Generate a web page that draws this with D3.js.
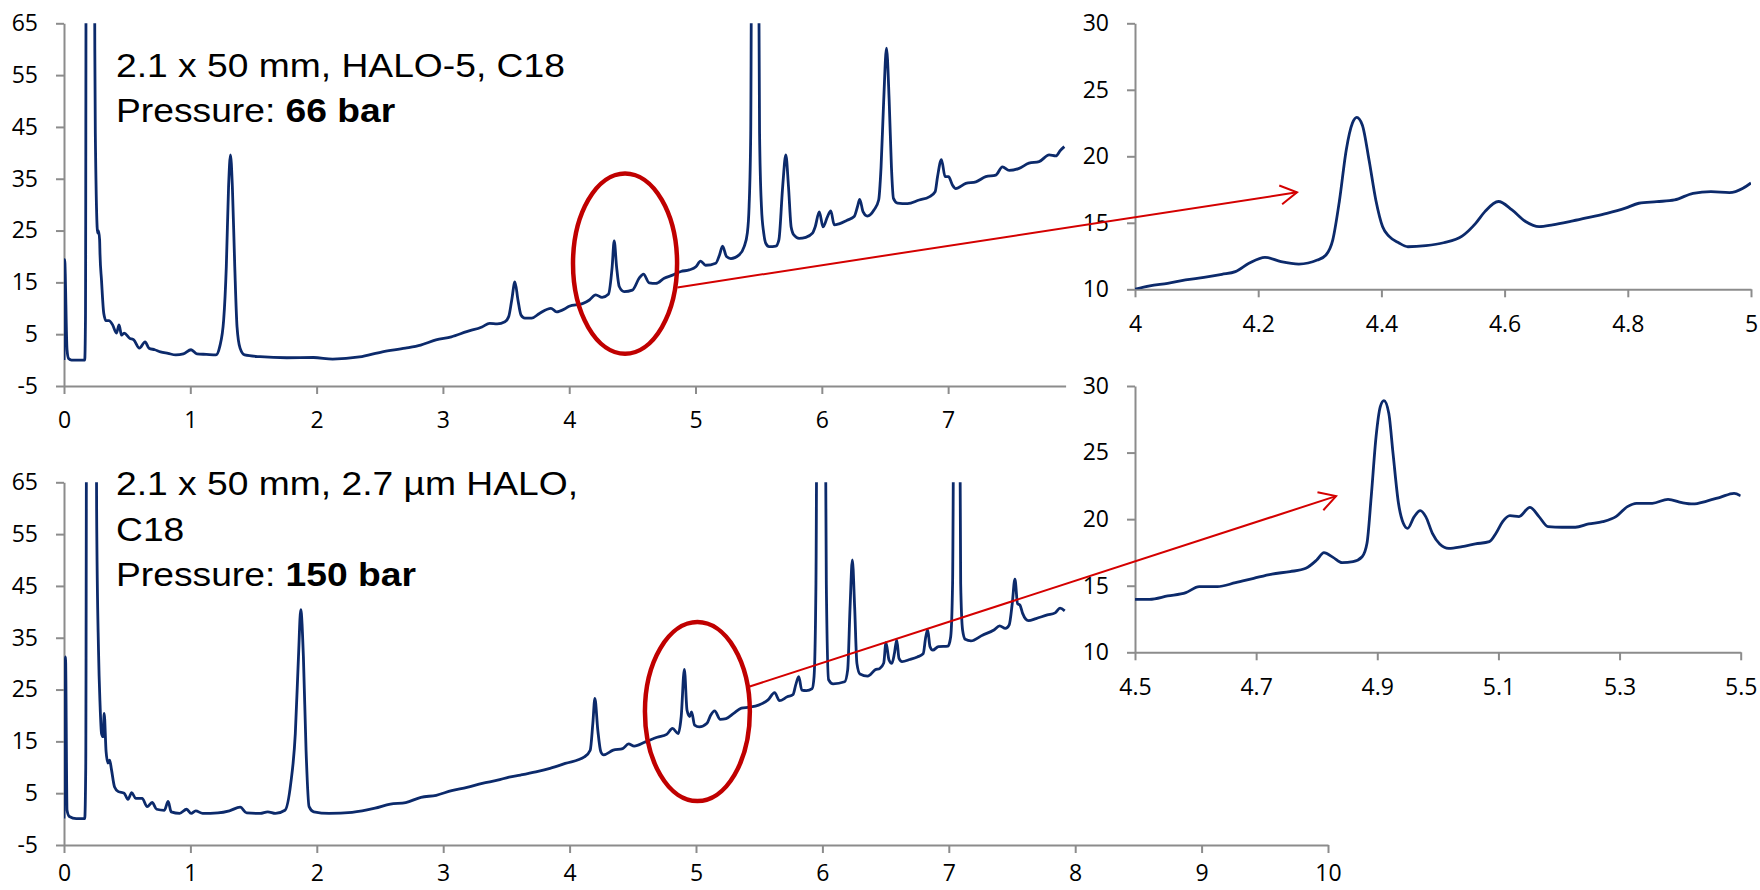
<!DOCTYPE html>
<html><head><meta charset="utf-8">
<script src="https://cdn.jsdelivr.net/npm/d3@7/dist/d3.min.js"></script>
<style>
html,body{margin:0;padding:0;background:#fff;}
svg text{font-family:"Open Sans",sans-serif;}
</style></head>
<body>
<svg id="chart" width="1760" height="890"></svg>
<script>
// ---------- DATA ----------
// Panel A: 2.1 x 50 mm, HALO-5, C18 (time min, signal)
const traceA = [
[0.000,0.0],[0.005,19.4],[0.024,2.0],[0.036,0.3],[0.06,0.0],[0.164,0.0],[0.170,8],[0.178,120],[0.236,120],[0.244,60],[0.248,43.8],
[0.267,24.5],[0.273,25.0],[0.282,23.2],[0.285,20.5],[0.297,15.4],[0.315,9.0],[0.333,7.6],[0.355,7.6],[0.385,6.8],[0.415,5.2],
[0.436,6.8],[0.455,4.8],[0.476,5.2],[0.521,4.2],[0.552,3.9],[0.597,2.3],[0.642,3.5],[0.673,2.3],[0.718,2.0],[0.764,1.6],
[0.824,1.3],[0.885,1.0],[0.945,1.2],[1.006,2.0],[1.052,1.2],[1.127,1.1],[1.203,1.0],[1.233,2.6],[1.264,7.7],[1.285,18.0],
[1.303,33.5],[1.318,39.6],[1.333,33.5],[1.352,18.0],[1.370,6.4],[1.394,2.3],[1.430,1.0],[1.552,0.65],[1.764,0.45],[1.976,0.5],
[2.127,0.2],[2.339,0.6],[2.521,1.6],[2.703,2.3],[2.824,2.9],[2.945,3.9],[3.067,4.5],[3.188,5.5],[3.309,6.4],[3.370,7.1],
[3.430,7.0],[3.491,7.4],[3.521,8.4],[3.545,11.6],[3.570,15.1],[3.594,11.6],[3.618,8.7],[3.648,8.1],[3.703,8.1],[3.764,9.0],
[3.855,10.0],[3.900,9.3],[3.966,9.9],[4.000,10.4],[4.105,10.9],[4.160,11.6],[4.210,12.6],[4.260,12.1],[4.310,12.7],[4.340,18.0],
[4.356,23.0],[4.375,18.0],[4.396,14.2],[4.435,13.2],[4.500,13.5],[4.554,15.8],[4.588,16.6],[4.633,14.9],[4.686,14.8],[4.752,15.8],
[4.818,16.4],[4.884,17.1],[4.950,17.4],[5.003,18.0],[5.040,19.1],[5.080,18.3],[5.160,18.7],[5.190,20.3],[5.214,22.0],[5.245,20.0],
[5.280,19.6],[5.345,20.3],[5.385,21.9],[5.410,24.5],[5.424,29.6],[5.437,43.8],[5.450,120],[5.490,120],[5.507,43.8],[5.522,29.6],
[5.540,24.5],[5.557,22.5],[5.583,21.9],[5.636,22.0],[5.660,23.2],[5.690,33.5],[5.715,39.6],[5.736,33.5],[5.757,25.7],[5.780,24.1],
[5.820,23.5],[5.873,23.7],[5.926,24.5],[5.947,25.7],[5.980,28.6],[6.010,25.7],[6.045,27.7],[6.071,28.8],[6.098,26.1],[6.137,26.3],
[6.200,27.0],[6.256,27.7],[6.282,29.6],[6.300,31.0],[6.327,28.6],[6.360,27.8],[6.414,29.0],[6.450,30.9],[6.469,37.3],[6.490,50.2],
[6.512,60.2],[6.533,50.2],[6.551,37.3],[6.567,31.2],[6.599,30.3],[6.678,30.2],[6.771,30.9],[6.850,31.5],[6.897,32.5],[6.916,35.4],
[6.947,38.7],[6.976,35.4],[7.003,35.4],[7.034,33.8],[7.060,33.1],[7.140,34.1],[7.220,34.4],[7.298,35.4],[7.377,35.7],[7.430,37.3],
[7.483,36.6],[7.562,37.0],[7.640,38.0],[7.720,38.3],[7.800,39.6],[7.852,39.4],[7.890,40.5],[7.920,41.2]
];

// Panel C: 2.1 x 50 mm, 2.7 µm HALO, C18
const traceC = [
[0.000,0.1],[0.012,31.3],[0.024,1.7],[0.042,0.5],[0.097,0.1],[0.164,0.1],[0.172,10],[0.182,120],[0.250,120],[0.258,60],[0.273,32.6],
[0.285,22.3],[0.297,16.5],[0.309,15.9],[0.318,20.4],[0.333,13.0],[0.348,10.8],[0.361,11.4],[0.376,9.5],[0.400,6.2],[0.430,5.3],
[0.476,5.0],[0.506,3.8],[0.536,5.1],[0.567,4.0],[0.618,4.0],[0.658,2.4],[0.697,3.2],[0.733,1.9],[0.794,1.7],[0.824,3.4],
[0.848,1.4],[0.915,1.1],[0.970,1.9],[1.006,1.1],[1.042,1.6],[1.097,1.1],[1.218,1.2],[1.309,1.6],[1.394,2.3],[1.445,1.2],
[1.552,1.1],[1.612,1.4],[1.673,1.1],[1.748,1.7],[1.794,6.9],[1.830,16.5],[1.855,31.3],[1.873,40.4],[1.894,31.3],[1.915,13.3],
[1.939,2.4],[1.976,1.4],[2.097,1.1],[2.279,1.3],[2.461,2.1],[2.582,2.9],[2.703,3.2],[2.824,4.2],[2.945,4.6],[3.067,5.5],
[3.188,6.1],[3.309,6.9],[3.430,7.5],[3.521,8.1],[3.612,8.5],[3.733,9.1],[3.845,9.8],[3.966,10.75],[4.117,12.0],[4.163,13.3],
[4.184,18.5],[4.200,23.3],[4.223,17.2],[4.247,13.0],[4.269,12.4],[4.345,13.3],[4.420,13.6],[4.466,14.5],[4.511,14.1],[4.600,14.9],
[4.693,15.8],[4.768,16.35],[4.814,17.5],[4.859,16.5],[4.883,19.8],[4.908,28.9],[4.929,21.0],[4.950,19.8],[4.965,20.7],[4.989,18.15],
[5.026,17.8],[5.087,18.5],[5.117,20.1],[5.147,20.9],[5.192,19.25],[5.238,19.4],[5.298,20.4],[5.359,21.4],[5.420,21.6],[5.495,22.0],
[5.570,23.0],[5.622,24.4],[5.661,22.85],[5.722,23.6],[5.767,24.0],[5.789,25.9],[5.813,27.5],[5.837,24.9],[5.873,24.8],[5.919,25.2],
[5.934,27.5],[5.949,45.5],[5.964,120],[6.013,120],[6.031,45.5],[6.049,26.9],[6.085,26.1],[6.176,26.5],[6.200,28.8],[6.219,41.0],
[6.237,50.0],[6.255,41.0],[6.273,30.05],[6.297,28.0],[6.358,27.6],[6.418,28.8],[6.455,29.1],[6.485,30.1],[6.503,34.05],[6.527,30.7],
[6.549,30.05],[6.570,32.0],[6.588,34.6],[6.606,31.0],[6.630,30.4],[6.691,30.8],[6.751,31.3],[6.797,31.9],[6.818,35.2],[6.833,36.5],
[6.851,33.3],[6.873,32.6],[6.918,33.3],[6.994,33.4],[7.015,35.2],[7.030,45.5],[7.048,120],[7.078,120],[7.094,45.5],[7.109,36.5],
[7.130,34.7],[7.175,34.4],[7.266,35.5],[7.357,36.5],[7.402,37.3],[7.448,36.8],[7.478,37.5],[7.502,41.6],[7.523,46.3],[7.544,41.6],
[7.563,41.3],[7.584,39.7],[7.630,38.3],[7.690,38.7],[7.780,39.4],[7.841,39.8],[7.880,40.7],[7.917,40.2]
];

// Panel B: zoom 4.0–5.0 min of trace A
const traceB = [
[4.000,10.0],[4.024,10.25],[4.053,10.45],[4.082,10.7],[4.112,10.9],[4.141,11.13],[4.163,11.33],[4.185,11.95],[4.211,12.4],[4.237,12.08],
[4.266,11.9],[4.296,12.2],[4.310,12.58],[4.321,13.7],[4.332,16.7],[4.343,20.5],[4.353,22.5],[4.360,22.93],[4.369,22.36],[4.380,19.7],
[4.391,16.7],[4.402,14.7],[4.413,13.96],[4.428,13.5],[4.443,13.2],[4.472,13.28],[4.501,13.5],[4.531,14.0],[4.553,14.96],[4.568,15.84],
[4.590,16.6],[4.612,15.97],[4.634,15.1],[4.656,14.71],[4.678,14.84],[4.707,15.1],[4.737,15.41],[4.766,15.71],[4.796,16.1],[4.818,16.47],
[4.847,16.59],[4.876,16.72],[4.906,17.22],[4.935,17.34],[4.965,17.27],[4.987,17.6],[5.000,18.0]
];

// Panel D: zoom 4.5–5.5 min of trace C
const traceD = [
[4.500,13.98],[4.524,13.98],[4.554,14.23],[4.584,14.48],[4.606,14.93],[4.636,14.93],[4.666,15.23],[4.696,15.56],[4.726,15.88],[4.756,16.06],
[4.782,16.31],[4.800,16.93],[4.812,17.48],[4.827,17.13],[4.842,16.73],[4.860,16.81],[4.875,17.18],[4.883,18.19],[4.890,21.69],[4.898,26.2],
[4.905,28.45],[4.911,28.9],[4.919,27.95],[4.926,24.94],[4.935,21.19],[4.943,19.69],[4.950,19.31],[4.961,20.19],[4.971,20.64],[4.980,20.19],
[4.991,18.94],[5.003,18.14],[5.018,17.81],[5.040,17.94],[5.062,18.14],[5.085,18.31],[5.096,18.94],[5.107,19.81],[5.119,20.26],[5.134,20.19],
[5.152,20.89],[5.167,20.19],[5.182,19.44],[5.205,19.39],[5.227,19.39],[5.249,19.64],[5.272,19.81],[5.294,20.19],[5.313,20.94],[5.328,21.19],
[5.354,21.19],[5.380,21.49],[5.403,21.24],[5.421,21.14],[5.444,21.36],[5.466,21.64],[5.489,21.94],[5.500,21.75]
];

// Tick labels
const yTicksMain = [-5, 5, 15, 25, 35, 45, 55, 65];
const yTicksZoom = [10, 15, 20, 25, 30];
const xTicksA = [0, 1, 2, 3, 4, 5, 6, 7];
const xTicksC = [0, 1, 2, 3, 4, 5, 6, 7, 8, 9, 10];
const xTicksB = [4, 4.2, 4.4, 4.6, 4.8, 5];
const xTicksD = [4.5, 4.7, 4.9, 5.1, 5.3, 5.5];

// Annotation texts
const labelA = [["2.1 x 50 mm, HALO-5, C18", ""], ["Pressure: ", "66 bar"]];
const labelC = [["2.1 x 50 mm, 2.7 µm HALO,", ""], ["C18", ""], ["Pressure: ", "150 bar"]];

// ---------- DRAW ----------
const svg = d3.select("#chart");
const LINE = "#0c2a6b", AXIS = "#8c8c8c", RED_E = "#c00000", RED_A = "#d40000";
const FS = 23;

svg.append("defs").append("marker")
  .attr("id","arrowhead").attr("markerUnits","userSpaceOnUse")
  .attr("viewBox","-20 -12 22 24").attr("refX",0).attr("refY",0)
  .attr("markerWidth",22).attr("markerHeight",24).attr("orient","auto")
  .append("path").attr("d","M-16.5,-9.5L0,0L-16.5,9.5")
  .attr("fill","none").attr("stroke",RED_A).attr("stroke-width",2);

function panel(id, cfg) {
  const x = d3.scaleLinear().domain(cfg.xd).range(cfg.xr);
  const y = d3.scaleLinear().domain(cfg.yd).range(cfg.yr);
  const g = svg.append("g").attr("id", id);
  g.append("clipPath").attr("id", id + "clip").append("rect")
    .attr("x", cfg.xr[0]).attr("y", cfg.yr[1]).attr("width", cfg.xr[1]-cfg.xr[0]).attr("height", cfg.yr[0]-cfg.yr[1]);

  const yAx = g.append("g").attr("transform", `translate(${cfg.xr[0]},0)`)
    .call(d3.axisLeft(y).tickValues(cfg.yt).tickFormat(d => String(d)).tickSize(8).tickPadding(18).tickSizeOuter(0));
  const xAx = g.append("g").attr("transform", `translate(0,${cfg.yr[0]})`)
    .call(d3.axisBottom(x).tickValues(cfg.xt).tickFormat(d => String(d)).tickSize(8).tickPadding(cfg.xpad || 18).tickSizeOuter(0));
  [yAx, xAx].forEach(a => {
    a.select(".domain").attr("stroke", AXIS).attr("stroke-width", 2);
    a.selectAll(".tick line").attr("stroke", AXIS).attr("stroke-width", 2);
    a.selectAll(".tick text").attr("fill", "#000").style("font-size", FS + "px")
      .style("font-family", '"Open Sans", sans-serif');
  });

  g.append("path").datum(cfg.data)
    .attr("clip-path", `url(#${id}clip)`)
    .attr("fill", "none").attr("stroke", LINE).attr("stroke-width", 2.8)
    .attr("stroke-linejoin", "round")
    .attr("d", d3.line().curve(d3.curveMonotoneX).x(d => x(d[0])).y(d => y(d[1])));
  return {x, y};
}

const A = panel("pA", {xd:[0,7.93], xr:[64,1065.6], yd:[-5,65], yr:[386,23.3], yt:yTicksMain, xt:xTicksA, data:traceA});
const C = panel("pC", {xd:[0,10], xr:[64,1328], yd:[-5,65], yr:[845,482.3], yt:yTicksMain, xt:xTicksC, data:traceC, xpad:12});
const B = panel("pB", {xd:[4,5], xr:[1135,1751], yd:[10,30], yr:[289.3,23.3], yt:yTicksZoom, xt:xTicksB, data:traceB});
const D = panel("pD", {xd:[4.5,5.5], xr:[1135,1740.7], yd:[10,30], yr:[652.3,386], yt:yTicksZoom, xt:xTicksD, data:traceD});

// annotation labels
function label(lines, x0, baselines) {
  const t = svg.append("g").attr("transform", `translate(${x0},0) scale(1.095,1)`);
  lines.forEach((ln, i) => {
    const tx = t.append("text").attr("x", 0).attr("y", baselines[i])
      .style("font-family", '"Liberation Sans", Arial, sans-serif').style("font-size", "34px").attr("fill", "#000");
    tx.append("tspan").text(ln[0]);
    if (ln[1]) tx.append("tspan").attr("font-weight", "bold").text(ln[1]);
  });
}
label(labelA, 116, [77.3, 121.7]);
label(labelC, 116, [495, 541, 586]);

// ellipses and arrows (positioned in data coordinates of the panels)
function ellipse(P, cx, cy, rxT, ryV) {
  svg.append("ellipse")
    .attr("cx", P.x(cx)).attr("cy", P.y(cy))
    .attr("rx", P.x(cx + rxT) - P.x(cx)).attr("ry", P.y(cy) - P.y(cy + ryV))
    .attr("fill", "none").attr("stroke", RED_E).attr("stroke-width", 4.5);
}
function arrow(P1, p1, P2, p2) {
  svg.append("line")
    .attr("x1", P1.x(p1[0])).attr("y1", P1.y(p1[1]))
    .attr("x2", P2.x(p2[0])).attr("y2", P2.y(p2[1]))
    .attr("stroke", RED_A).attr("stroke-width", 2).attr("marker-end", "url(#arrowhead)");
}
ellipse(A, 4.442, 18.63, 0.412, 17.4);
ellipse(C, 5.011, 20.75, 0.415, 17.28);
arrow(A, [4.856, 14.03], B, [4.263, 17.29]);
arrow(C, [5.419, 25.54], D, [4.832, 21.73]);
</script>
</body></html>
